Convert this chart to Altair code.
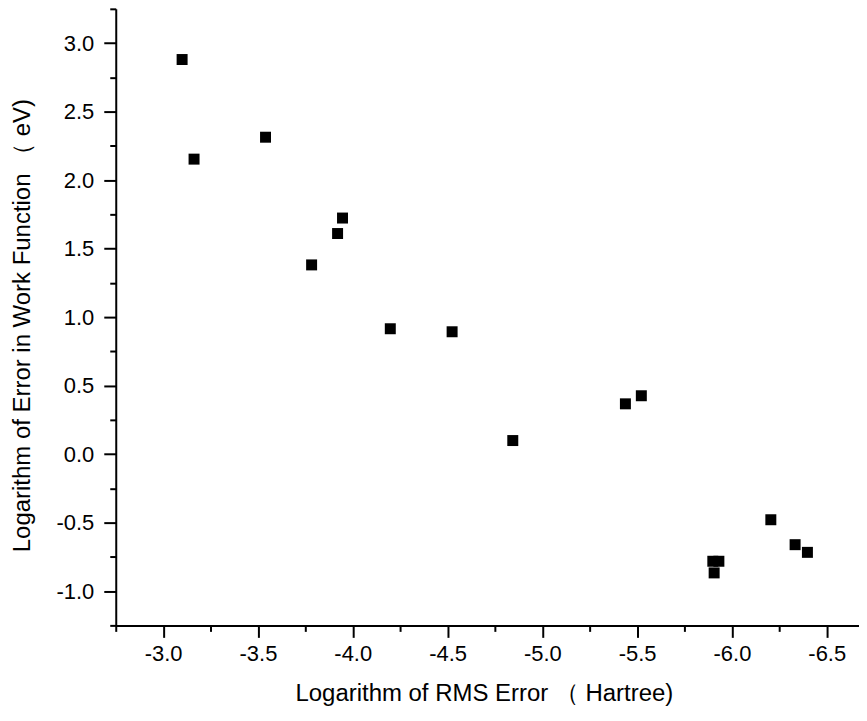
import altair as alt
import pandas as pd

# Data
rms_log = [-3.10, -3.163, -3.54, -3.946, -3.92, -3.783, -4.198, -4.524, -4.844,
           -5.438, -5.522, -6.205, -6.333, -6.398, -5.899, -5.931, -5.906]
wf_log = [2.88, 2.153, 2.313, 1.723, 1.61, 1.381, 0.915, 0.893, 0.099,
          0.367, 0.426, -0.479, -0.661, -0.717, -0.782, -0.782, -0.867]

x_ticks = [-2.75, -3.0, -3.25, -3.5, -3.75, -4.0, -4.25, -4.5, -4.75, -5.0,
           -5.25, -5.5, -5.75, -6.0, -6.25, -6.5]
y_ticks = [-1.25, -1.0, -0.75, -0.5, -0.25, 0.0, 0.25, 0.5, 0.75, 1.0, 1.25,
           1.5, 1.75, 2.0, 2.25, 2.5, 2.75, 3.0, 3.25]

df = pd.DataFrame({"x": rms_log, "y": wf_log})

W, H = 745, 618
FONT = "Liberation Sans"

major_test = "abs(datum.value*2 - round(datum.value*2)) < 0.001"
label_expr = ("abs(datum.value*2 - round(datum.value*2)) < 0.001 ? "
              "((datum.value < -0.001 ? '-' : '') + format(abs(datum.value), '.1f')) : ''")

x_axis = alt.Axis(
    values=x_ticks,
    labelExpr=label_expr,
    tickSize={"condition": {"test": major_test, "value": 12}, "value": 6},
    tickWidth=2, domainWidth=2, domainColor="black", tickColor="black",
    labelFont=FONT, labelFontSize=22, labelColor="black", labelPadding=6,
    labelFlush=False, labelOverlap=False, grid=False,
    title="Logarithm of RMS Error （ Hartree)",
    titleFont=FONT, titleFontSize=24, titleFontWeight="normal", titleColor="black",
    titleX=369, titleY=68, titleBaseline="middle", titleAlign="center",
)
y_axis = alt.Axis(
    values=y_ticks,
    labelExpr=label_expr,
    tickSize={"condition": {"test": major_test, "value": 12}, "value": 6},
    tickWidth=2, domainWidth=2, domainColor="black", tickColor="black",
    labelFont=FONT, labelFontSize=22, labelColor="black", labelPadding=10,
    labelFlush=False, labelOverlap=False, grid=False,
    title="Logarithm of Error in Work Function （ eV)",
    titleFont=FONT, titleFontSize=24, titleFontWeight="normal", titleColor="black",
    titleX=-93, titleY=H / 2 + 8, titleAngle=-90, titleBaseline="middle", titleAlign="center",
)

chart = alt.Chart(df).mark_point(
    shape="square", filled=True, color="black", size=121, opacity=1
).encode(
    x=alt.X("x:Q", scale=alt.Scale(domain=[-2.75, -6.67], nice=False, zero=False), axis=x_axis),
    y=alt.Y("y:Q", scale=alt.Scale(domain=[-1.25, 3.25], nice=False, zero=False), axis=y_axis),
).properties(
    width=W, height=H,
    autosize=alt.AutoSizeParams(type="none"),
    padding={"left": 108, "top": 0, "right": 0, "bottom": 90},
    background="white",
).configure_view(stroke=None)

chart.save("out.html", embed_options={"renderer": "svg", "actions": False})
